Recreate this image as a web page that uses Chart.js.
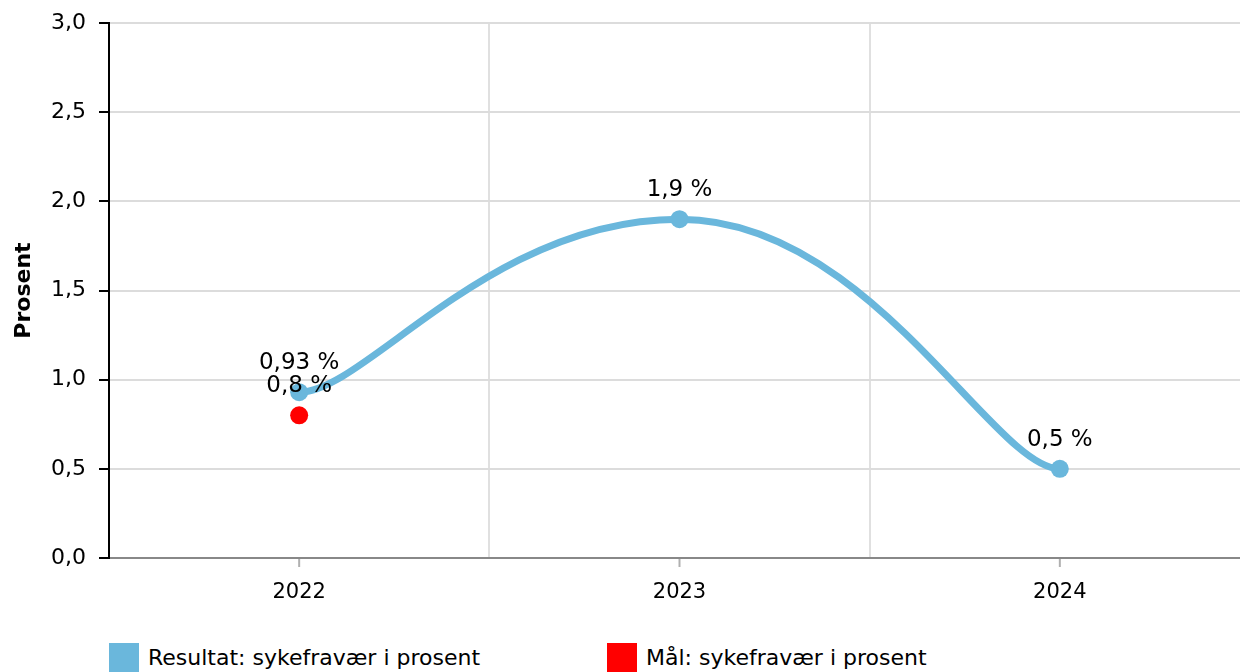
<!DOCTYPE html>
<html>
<head>
<meta charset="utf-8">
<script src="https://cdn.jsdelivr.net/npm/chart.js@4"></script>
<style>
  html, body { margin: 0; padding: 0; background: #fff; overflow: hidden; }
  #wrap { position: relative; width: 1259px; height: 630px; }
  #legend { position: absolute; top: 643px; left: 0; font-family: "DejaVu Sans"; font-size: 22px; color: #000; }
  .item { position: absolute; top: 0; white-space: nowrap; }
  .box { position: absolute; top: 0; width: 30px; height: 30px; }
  .txt { position: absolute; top: 2px; }
</style>
</head>
<body>
<div id="wrap"><canvas id="chart" width="1259" height="630" style="width:1259px;height:630px"></canvas></div>
<div id="legend"></div>
<script>
// data
const years = ['2022', '2023', '2024'];
const resultat = [0.93, 1.9, 0.5];
const maal = [0.8, null, null];
const seriesNames = ['Resultat: sykefravær i prosent', 'Mål: sykefravær i prosent'];
const yTicks = [0, 0.5, 1, 1.5, 2, 2.5, 3];

const blue = '#6ab7dc';
const red = '#ff0000';
const font = 'DejaVu Sans';

function fmt(v) {
  return v.toString().replace('.', ',');
}

// spline handles like the original: flat at the ends and at peaks,
// short handles at the first/last point, long ones inside
const splineHandles = {
  id: 'splineHandles',
  beforeDatasetDraw(chart, args) {
    if (args.index !== 0) return;
    const line = args.meta.dataset;
    line.updateControlPoints(chart.chartArea, 'x');
    const pts = line.points;
    const n = pts.length;
    const slopeAt = i => {
      const p = pts[i], prev = pts[i - 1], next = pts[i + 1];
      if (!prev || !next) return 0;
      if ((p.y - prev.y) * (next.y - p.y) <= 0) return 0;
      return (next.y - prev.y) / (next.x - prev.x);
    };
    for (let i = 0; i < n; i++) {
      const p = pts[i], prev = pts[i - 1], next = pts[i + 1];
      const s = slopeAt(i);
      if (prev) {
        const len = (next ? 0.5 : 0.175) * (p.x - prev.x);
        p.cp1x = p.x - len;
        p.cp1y = p.y - s * len;
      }
      if (next) {
        const len = (prev ? 0.5 : 0.175) * (next.x - p.x);
        p.cp2x = p.x + len;
        p.cp2y = p.y + s * len;
      }
    }
  }
};

// value labels over the points, drawn on top of everything
const valueLabels = {
  id: 'valueLabels',
  afterDatasetsDraw(chart) {
    const ctx = chart.ctx;
    ctx.save();
    ctx.font = '23px "' + font + '"';
    ctx.fillStyle = '#000';
    ctx.textAlign = 'center';
    ctx.textBaseline = 'middle';
    [0, 1].forEach(di => {
      const meta = chart.getDatasetMeta(di);
      meta.data.forEach((pt, i) => {
        const v = chart.data.datasets[di].data[i];
        if (v === null) return;
        ctx.fillText(fmt(v) + ' %', pt.x, pt.y - 29);
      });
    });
    ctx.restore();
  }
};

// small tick marks under the x axis at each category
const xTickMarks = {
  id: 'xTickMarks',
  afterDraw(chart) {
    const ctx = chart.ctx;
    const x = chart.scales.x;
    ctx.save();
    ctx.strokeStyle = '#b0b0b0';
    ctx.lineWidth = 2;
    years.forEach((y, i) => {
      const px = x.getPixelForTick(i);
      ctx.beginPath();
      ctx.moveTo(px, x.top + 1);
      ctx.lineTo(px, x.top + 9);
      ctx.stroke();
    });
    ctx.restore();
  }
};

const ctx = document.getElementById('chart').getContext('2d');
const chart = new Chart(ctx, {
  type: 'line',
  data: {
    labels: years,
    datasets: [{
      label: seriesNames[0],
      data: resultat,
      borderColor: blue,
      backgroundColor: blue,
      borderWidth: 7,
      pointRadius: 9,
      pointBorderWidth: 0,
      pointBackgroundColor: blue,
      tension: 0.4,
      fill: false
    }, {
      label: seriesNames[1],
      data: maal,
      borderColor: red,
      backgroundColor: red,
      showLine: false,
      pointRadius: 9,
      pointBorderWidth: 0,
      pointBackgroundColor: red
    }]
  },
  options: {
    responsive: false,
    animation: false,
    layout: { padding: { top: 23, right: 1, left: 0, bottom: 0 } },
    plugins: {
      legend: { display: false },
      tooltip: { enabled: false }
    },
    scales: {
      x: {
        offset: true,
        grid: {
          offset: true,
          color: '#e0e0e0',
          lineWidth: 2,
          tickLength: 10,
          tickColor: 'rgba(0,0,0,0)'
        },
        border: { color: '#888888', width: 2 },
        ticks: {
          padding: 12,
          color: '#000',
          font: { family: font, size: 21 }
        },
        afterFit: function(scale) {
          scale.height = 630 - 558;
          scale.paddingLeft = 0;
          scale.paddingRight = 0;
        }
      },
      y: {
        min: 0,
        max: 3,
        afterBuildTicks: function(scale) {
          scale.ticks = yTicks.map(v => ({ value: v }));
        },
        grid: {
          color: '#dcdcdc',
          lineWidth: 2,
          tickLength: 10,
          tickColor: '#000'
        },
        border: { color: '#000', width: 2 },
        ticks: {
          padding: 13,
          color: '#000',
          font: { family: font, size: 22 },
          callback: function(value) { return value.toFixed(1).replace('.', ','); }
        },
        title: {
          display: true,
          text: 'Prosent',
          color: '#000',
          padding: 11,
          font: { family: font, size: 22, weight: 'bold' }
        },
        afterFit: function(scale) {
          scale.width = 109;
          scale.paddingTop = 0;
          scale.paddingBottom = 0;
        }
      }
    }
  },
  plugins: [splineHandles, valueLabels, xTickMarks]
});

// legend under the chart
const legend = document.getElementById('legend');
const legendX = [109, 607];
chart.data.datasets.forEach((ds, i) => {
  const item = document.createElement('div');
  item.className = 'item';
  item.style.left = legendX[i] + 'px';
  item.innerHTML = '<div class="box" style="background:' + ds.borderColor + '"></div>' +
    '<div class="txt" style="left:39px">' + ds.label + '</div>';
  legend.appendChild(item);
});
</script>
</body>
</html>
